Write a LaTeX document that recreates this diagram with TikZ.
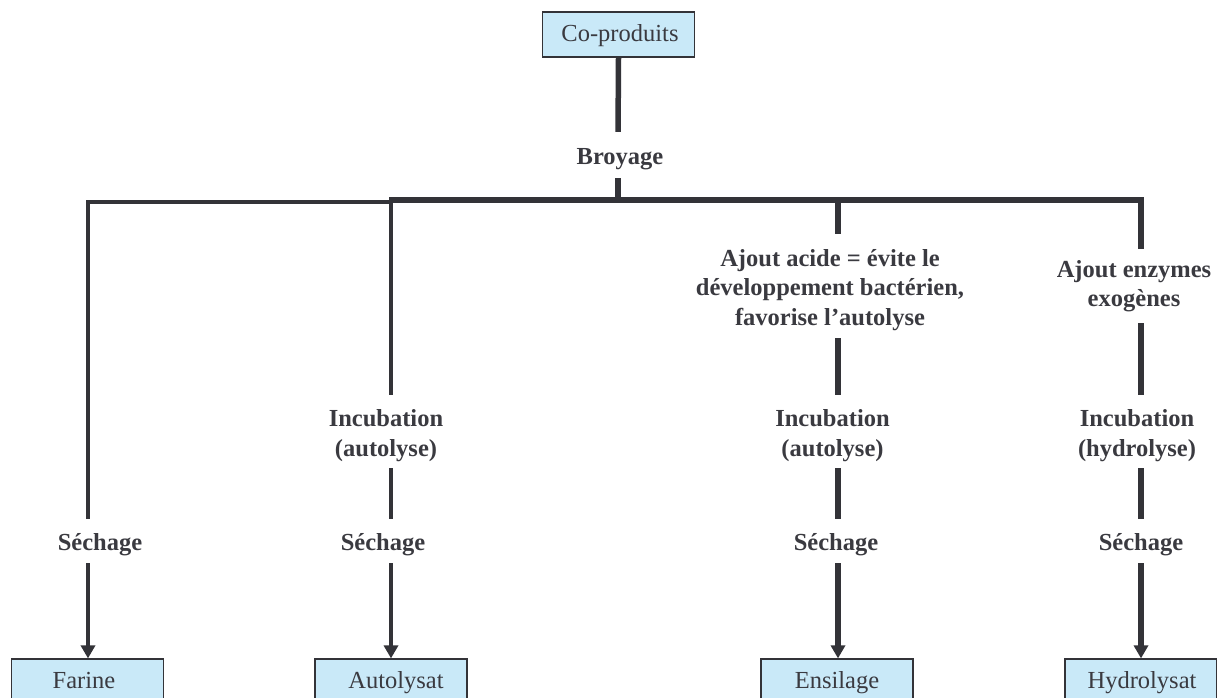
\documentclass[tikz,border=0pt]{standalone}
\usepackage{fontspec}
\setmainfont{Liberation Serif}
\usetikzlibrary{arrows.meta}
\definecolor{ln}{HTML}{333338}
\definecolor{tx}{HTML}{3A3A40}
\definecolor{bx}{HTML}{C9E9F8}
\begin{document}
\begin{tikzpicture}[x=1pt,y=-1pt,
  box/.style={draw=ln, line width=1.2pt, fill=bx, minimum width=152pt, minimum height=45pt, inner sep=0pt, text height=19.5pt, text depth=5.5pt, font=\fontsize{24.5}{29.5}\selectfont, text=tx},
  lab/.style={inner sep=0pt, align=center, font=\fontsize{24.5}{29.5}\selectfont\bfseries, text=tx},
  thinln/.style={draw=ln, line width=4pt, line join=miter},
  thickln/.style={draw=ln, line width=5.5pt, line join=miter},
  into/.style={shorten >=4pt},
  outof/.style={shorten <=-4pt},
  arr/.style={-{Triangle[width=14pt,length=13pt]}}]
\useasboundingbox (0,0) rectangle (1217,698);
% column coordinates
\coordinate (k0) at (618,0);
\coordinate (k1) at (88,0);
\coordinate (k2) at (391,0);
\coordinate (k3) at (838,0);
\coordinate (k4) at (1141,0);
% nodes
\node[box] (cop) at (618.5,34.5) {\hspace*{3pt}Co-produits};
\node[lab, minimum height=46pt] (broy) at (620,159) {Broyage};
\coordinate (j) at (618,200);
\coordinate (c1) at (88,201.5);
\coordinate (c2) at (391,201.5);
\coordinate (c2r) at (389,200);
\coordinate (c3) at (838,200);
\coordinate (c4) at (1141,200);
% Farine
\node[lab, minimum height=44pt] (s1) at (100,545) {Séchage};
\node[box] (far) at (87.5,681.5) {Farine\hspace*{7pt}};
% Autolysat
\node[lab, minimum height=73pt] (i2) at (386,435.5) {Incubation\\(autolyse)};
\node[lab, minimum height=44pt] (s2) at (383,545) {Séchage};
\node[box] (aut) at (391,681.5) {\hspace*{10pt}Autolysat};
% Ensilage
\node[lab, minimum height=104pt] (a3) at (830,290) {Ajout acide = évite le\\développement bactérien,\\favorise l’autolyse};
\node[lab, minimum height=73pt] (i3) at (832.5,435.5) {Incubation\\(autolyse)};
\node[lab, minimum height=44pt] (s3) at (836,545) {Séchage};
\node[box] (ens) at (837,681.5) {Ensilage};
% Hydrolysat
\node[lab, minimum height=74pt] (a4) at (1134,286) {Ajout enzymes\\exogènes};
\node[lab, minimum height=73pt] (i4) at (1137,435.5) {Incubation\\(hydrolyse)};
\node[lab, minimum height=44pt] (s4) at (1141,545) {Séchage};
\node[box] (hyd) at (1141,681.5) {\hspace*{2pt}Hydrolysat};
% connectors
\draw[thickln, into] (cop.south) -- (broy.north -| k0);
\draw[thickln, outof] (broy.south -| k0) -- (j);
\draw[thinln, into] (c2) -- (c1) -- (s1.north -| k1);
\draw[thinln, arr, outof] (s1.south -| k1) -- (far.north -| k1);
\draw[thinln, into] (c2) -- (i2.north -| k2);
\draw[thinln, into, outof] (i2.south -| k2) -- (s2.north -| k2);
\draw[thinln, arr, outof] (s2.south -| k2) -- (aut.north);
\draw[thickln] (c2r) -- (c4) -- (a4.north -| k4);
\draw[thickln, into] (c3) -- (a3.north -| k3);
\draw[thickln, into, outof] (a3.south -| k3) -- (i3.north -| k3);
\draw[thickln, into, outof] (i3.south -| k3) -- (s3.north -| k3);
\draw[thickln, arr, outof] (s3.south -| k3) -- (ens.north -| k3);
\draw[thickln, into] (a4.south -| k4) -- (i4.north -| k4);
\draw[thickln, into, outof] (i4.south -| k4) -- (s4.north -| k4);
\draw[thickln, arr, outof] (s4.south -| k4) -- (hyd.north);
\end{tikzpicture}
\end{document}
